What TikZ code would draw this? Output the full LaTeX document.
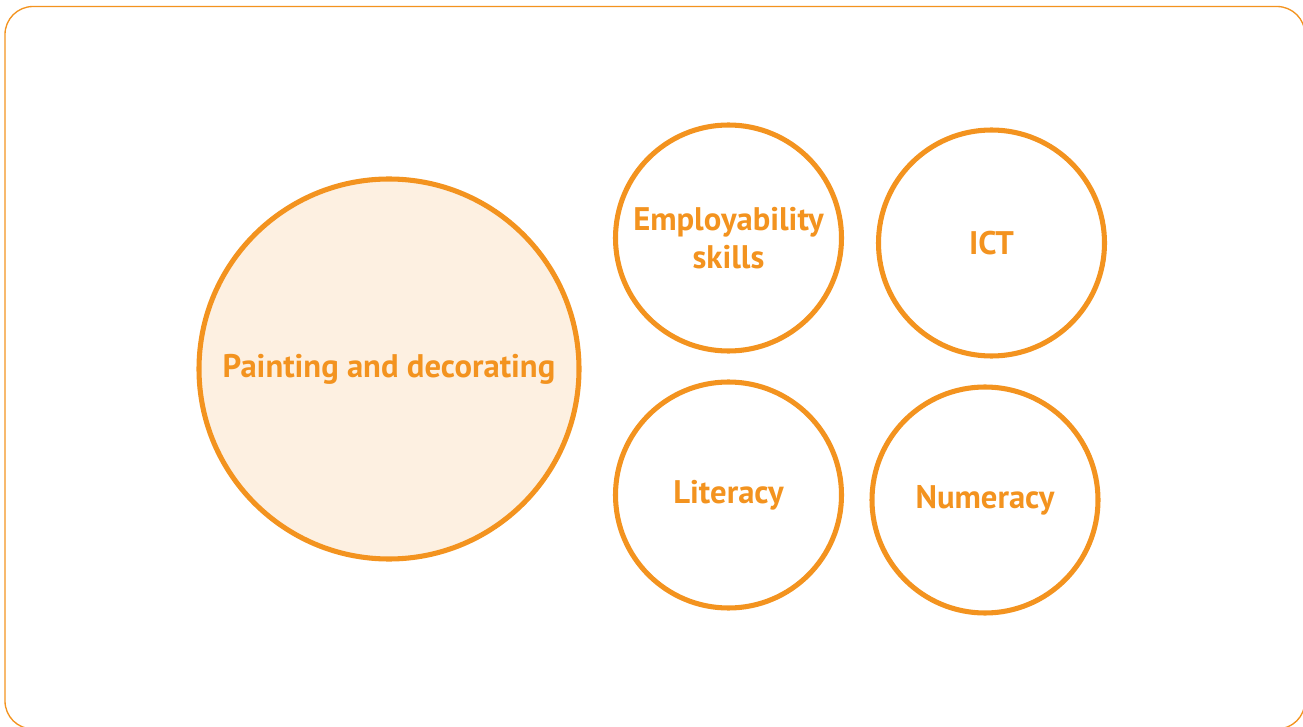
\documentclass[tikz,border=0pt]{standalone}
\usepackage{fontspec}
\setmainfont{PT Sans}
\definecolor{ring}{HTML}{F3931F}
\definecolor{cream}{HTML}{FDF0E1}
\begin{document}
\begin{tikzpicture}[x=0.75pt,y=-0.75pt,
  bubble/.style={circle,draw=ring,line width=3.8pt,inner sep=0pt,
    text=ring,font=\fontsize{24.5}{28}\selectfont\bfseries,align=center},
  small/.style={bubble,minimum size=226*0.75pt},
  big/.style={bubble,fill=cream,minimum size=380*0.75pt}]
\useasboundingbox (0,0) rectangle (1303,727);
\draw[ring,line width=1pt,rounded corners=21pt] (5,6.5) rectangle (1305,729);
\node[big]   (pd)  at (389,369)   {Painting and decorating};
\node[small] (emp) at (728.5,238) {Employability\\skills};
\node[small] (ict) at (991.5,243) {ICT};
\node[small] (lit) at (728.5,495) {Literacy};
\node[small] (num) at (985,500)   {Numeracy};
\end{tikzpicture}
\end{document}
